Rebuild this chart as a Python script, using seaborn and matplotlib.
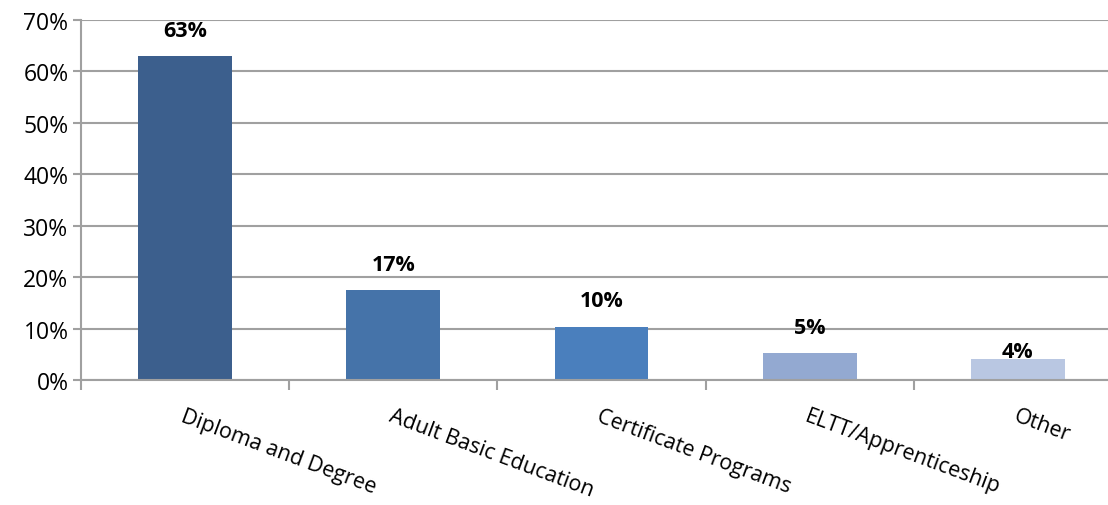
import matplotlib
matplotlib.use("Agg")
import matplotlib.pyplot as plt
import seaborn as sns
import pandas as pd
from matplotlib.ticker import FixedLocator, PercentFormatter

# data
categories = ["Diploma and Degree", "Adult Basic Education", "Certificate Programs",
              "ELTT/Apprenticeship", "Other"]
values = [63.0, 17.5, 10.4, 5.2, 4.1]
value_labels = ["63%", "17%", "10%", "5%", "4%"]
bar_colors = ["#3C5F8D", "#4573A9", "#4A7FBD", "#93A9D1", "#B9C7E2"]

df = pd.DataFrame({"category": categories, "value": values})

sns.set_style("white")
plt.rcParams["font.family"] = ["Open Sans", "DejaVu Sans"]
plt.rcParams["text.color"] = "black"

fig = plt.figure(figsize=(11.08, 5.06), dpi=100)
ax = fig.add_axes([81 / 1108, 1 - 381 / 506, 1041 / 1108, 360 / 506])

sns.barplot(data=df, x="category", y="value", hue="category", palette=bar_colors,
            width=0.45, legend=False, ax=ax, saturation=1, linewidth=0)

ax.set_ylim(0, 70)
ax.set_xlim(-0.5, len(categories) - 0.5)
ax.set_yticks(range(0, 71, 10))
ax.yaxis.set_major_formatter(PercentFormatter(decimals=0))
ax.set_axisbelow(True)
ax.yaxis.grid(True, color="#A0A0A0", linewidth=1.5)
ax.set_xlabel("")
ax.set_ylabel("")

for s in ["top", "right"]:
    ax.spines[s].set_visible(False)
for s in ["left", "bottom"]:
    ax.spines[s].set_color("#A0A0A0")
    ax.spines[s].set_linewidth(1.5)

ax.tick_params(axis="y", which="major", direction="out", length=6, width=1.5,
               color="#A0A0A0", labelcolor="black", labelsize=16.5, pad=3, left=True)

# category boundary ticks + rotated labels
ax.xaxis.set_minor_locator(FixedLocator([i - 0.5 for i in range(len(categories) + 1)]))
ax.tick_params(axis="x", which="minor", direction="out", length=7, width=1.5,
               color="#A0A0A0", bottom=True)
ax.tick_params(axis="x", which="major", length=0, labelsize=15.5, labelcolor="black", pad=18)
for lab in ax.get_xticklabels():
    lab.set_rotation(-20.5)
    lab.set_ha("left")
    lab.set_va("top")
    lab.set_rotation_mode("anchor")

for i, (v, t) in enumerate(zip(values, value_labels)):
    off = 11 if i < len(values) - 1 else -2
    ax.annotate(t, (i, v), xytext=(0, off), textcoords="offset points",
                ha="center", va="bottom", fontsize=15.5, fontweight="bold")

fig.savefig("out.png", dpi=100)
